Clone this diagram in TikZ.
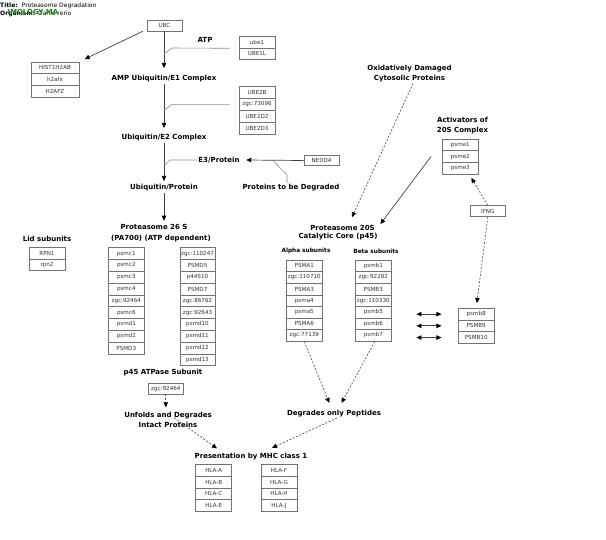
\documentclass[tikz,border=0pt]{standalone}
\usepackage{fontspec}
\setmainfont{DejaVu Sans}
\usetikzlibrary{arrows.meta}

\tikzset{
  hdr/.style={font=\fontsize{6}{7}\selectfont, inner sep=0pt, anchor=west},
  lbl/.style={font=\fontsize{7}{10}\selectfont\bfseries, inner sep=1.5pt, align=center},
  sublbl/.style={font=\fontsize{5.8}{7}\selectfont\bfseries, inner sep=1pt},
  gene/.style={draw=black!55, line width=0.6pt, fill=white, text=black!80,
    font=\fontsize{5.6}{6}\selectfont, inner sep=0pt,
    minimum width=36pt, minimum height=11.8pt},
  link/.style={draw=black!75, line width=0.7pt, ->, shorten >=2pt},
  dlink/.style={link, dash pattern=on 2pt off 1.6pt, draw=black!65},
  branch/.style={draw=black!45, line width=0.6pt},
  dbl/.style={draw=black!75, line width=0.8pt, <->},
}

\begin{document}
\begin{tikzpicture}[x=1pt, y=-1pt, >={Triangle[length=5pt,width=4.5pt,color=black]}]
  \fill[white] (0,0) rectangle (606,539);
  \useasboundingbox (0,0) rectangle (606,539);

  % header
  \node[hdr] (ttl) at (0,5.5) {\textbf{Title:}\hspace{4pt}Proteasome Degradation};
  \node[hdr] (org) at (0,13.5) {\textbf{Organism:}\hspace{3pt}Danio rerio};
  \node[hdr, font=\fontsize{6.9}{8}\selectfont\bfseries, text=green!60!black] (hom) at (7.5,12) {IMOLOGY MA};

  % ubiquitination
  \node[gene, minimum width=35pt, minimum height=11pt] (ubc) at (164.5,25.5) {UBC};
  \foreach \g [count=\i] in {HIST1H2AB,h2afx,H2AFZ}
    \node[gene, minimum width=48pt, minimum height=11.6pt] (hist-\i) at (55,{62+11.6*\i-5.8}) {\g};
  \node[lbl] (amp) at (164,79) {AMP Ubiquitin/E1 Complex};
  \node[lbl] (atp) at (205,40) {ATP};
  \foreach \g [count=\i] in {ube1,UBE1L}
    \node[gene, minimum height=11.3pt] (ube-\i) at (257,{36.7+11.3*\i-5.65}) {\g};
  \foreach \g [count=\i] in {UBE2B,zgc:73096,UBE2D2,UBE2D3}
    \node[gene] (ube2-\i) at (257,{86.7+11.8*\i-5.9}) {\g};
  \node[lbl] (e2) at (164,138) {Ubiquitin/E2 Complex};
  \node[lbl] (e3) at (219,160) {E3/Protein};
  \node[gene, minimum width=35pt, minimum height=10pt] (nedd) at (321.5,160.5) {NEDD4};
  \node[lbl] (ubprot) at (164,188) {Ubiquitin/Protein};
  \node[lbl] (ptbd) at (291,188) {Proteins to be Degraded};

  \coordinate (atpjoin) at (164,54);
  \coordinate (e2join) at (164,110.4);
  \coordinate (e3join) at (164,166);
  \coordinate (nedjoin) at (273,160.5);

  \draw[link, shorten >=6pt] (ubc.south -| amp) -- (amp.north);
  \draw[link, shorten >=5pt] (amp.south) -- (e2.north);
  \draw[link] (e2.south) -- (ubprot.north);
  \draw[link, shorten >=6pt] ([xshift=-4pt]ubc.south west) -- (hist-1.north east);
  \draw[branch] (atpjoin) -- ++(8,-6) -- ([xshift=-9pt]ube-1.south west);
  \draw[branch] (e2join) -- ++(8,-6) -- ([xshift=-9pt]ube2-2.west);
  \draw[branch] (e3join) -- ++(6,-6) -- (e3.west);
  \draw[link, shorten >=0pt] (nedd.west) -- ([xshift=5pt]e3.east);
  \draw[branch] ([xshift=-4pt]ptbd.north) -- ++(0,-8) -- (nedjoin);

  % 26S proteasome
  \node[lbl] (p26) at (154,227) {Proteasome 26 S};
  \node[lbl] (pa700) at (161,239) {(PA700) (ATP dependent)};
  \draw[link] (ubprot.south) -- (ubprot.south |- p26.north);
  \node[lbl] (lid) at (47,239) {Lid subunits};
  \foreach \g [count=\i] in {RPN1,rpn2}
    \node[gene, minimum height=11.5pt] (rpn-\i) at (47,{247.7+11.5*\i-5.75}) {\g};
  \foreach \g [count=\i] in {psmc1,psmc2,psmc3,psmc4,zgc:92464,psmc6,psmd1,psmd2,PSMD3}
    \node[gene] (psmc-\i) at (126.3,{247.7+11.8*\i-5.9}) {\g};
  \foreach \g [count=\i] in {zgc:110247,PSMD5,p44S10,PSMD7,zgc:86762,zgc:92643,psmd10,psmd11,psmd12,psmd13}
    \node[gene, minimum width=35pt] (psmd-\i) at (197.5,{247.7+11.8*\i-5.9}) {\g};

  \node[lbl] (p45) at (163,373) {p45 ATPase Subunit};
  \node[gene, minimum width=35pt, minimum height=10.7pt] (p45box) at (165.8,388.7) {zgc:92464};
  \node[lbl] (unfolds) at (168,419.7) {Unfolds and Degrades\\Intact Proteins};
  \draw[dlink, shorten >=3pt] (p45box.south) -- (p45box.south |- unfolds.north);

  % 20S proteasome
  \node[lbl] (oxid) at (409.5,73.3) {Oxidatively Damaged\\Cytosolic Proteins};
  \node[lbl] (activ) at (462.5,126) {Activators of\\20S Complex};
  \foreach \g [count=\i] in {psme1,psme2,psme3}
    \node[gene] (psme-\i) at (460.3,{139+11.7*\i-5.85}) {\g};
  \node[gene, minimum width=35.7pt, minimum height=11pt] (ifng) at (487.8,211.2) {IFNG};
  \node[lbl] (p20) at (342.5,228) {Proteasome 20S};
  \node[lbl] (core) at (338,237) {Catalytic Core (p45)};
  \node[sublbl] (alpha) at (306,251) {Alpha subunits};
  \node[sublbl] (beta) at (376,251) {Beta subunits};
  \foreach \g [count=\i] in {PSMA1,zgc:110710,PSMA3,psma4,psma5,PSMA6,zgc:77139}
    \node[gene, minimum width=36.7pt, minimum height=11.6pt] (psma-\i) at (304.3,{260+11.6*\i-5.8}) {\g};
  \foreach \g [count=\i] in {psmb1,zgc:92282,PSMB3,zgc:110330,psmb5,psmb6,psmb7}
    \node[gene, minimum width=36.7pt, minimum height=11.6pt] (psmb-\i) at (373.3,{260+11.6*\i-5.8}) {\g};
  \foreach \g [count=\i] in {psmb8,PSMB9,PSMB10}
    \node[gene, minimum width=35.7pt, minimum height=11.7pt] (psmbi-\i) at (476.2,{308.3+11.7*\i-5.85}) {\g};

  \draw[dlink, shorten >=0pt] ([xshift=3.5pt]oxid.south) -- ([xshift=9.5pt,yshift=6.5pt]p20.north);
  \draw[link, shorten >=0pt] ([xshift=-11pt]psme-2.west) -- ([xshift=4pt,yshift=4pt]p20.east);
  \draw[dlink, shorten >=4pt] (ifng.north) -- ([xshift=9pt]psme-3.south);
  \draw[dlink, shorten >=5pt] (ifng.south) -- (psmbi-1.north);
  \foreach \k in {1,2,3}
    \draw[dbl] ([xshift=-41.6pt]psmbi-\k.west) -- ([xshift=-16.6pt]psmbi-\k.west);

  % outputs
  \node[lbl] (dop) at (334,414) {Degrades only Peptides};
  \node[lbl] (mhc) at (251,457) {Presentation by MHC class 1};
  \foreach \g [count=\i] in {HLA-A,HLA-B,HLA-C,HLA-E}
    \node[gene] (hla-\i) at (213.7,{464.3+11.8*\i-5.9}) {\g};
  \foreach \g [count=\i] in {HLA-F,HLA-G,HLA-H,HLA-J}
    \node[gene] (hlf-\i) at (279,{464.3+11.8*\i-5.9}) {\g};

  \draw[dlink, shorten >=0pt] (psma-7.south) -- ([xshift=-4.7pt,yshift=6pt]dop.north);
  \draw[dlink, shorten >=0pt] ([xshift=1.5pt]psmb-7.south) -- ([xshift=7.5pt,yshift=6pt]dop.north);
  \draw[dlink, shorten >=0pt] ([xshift=6pt,yshift=2pt]unfolds.center) -- ([xshift=-34pt,yshift=3.5pt]mhc.north);
  \draw[dlink, shorten >=0pt] ([xshift=3pt,yshift=-4pt]dop.center) -- ([xshift=21pt,yshift=4pt]mhc.north);
\end{tikzpicture}
\end{document}
